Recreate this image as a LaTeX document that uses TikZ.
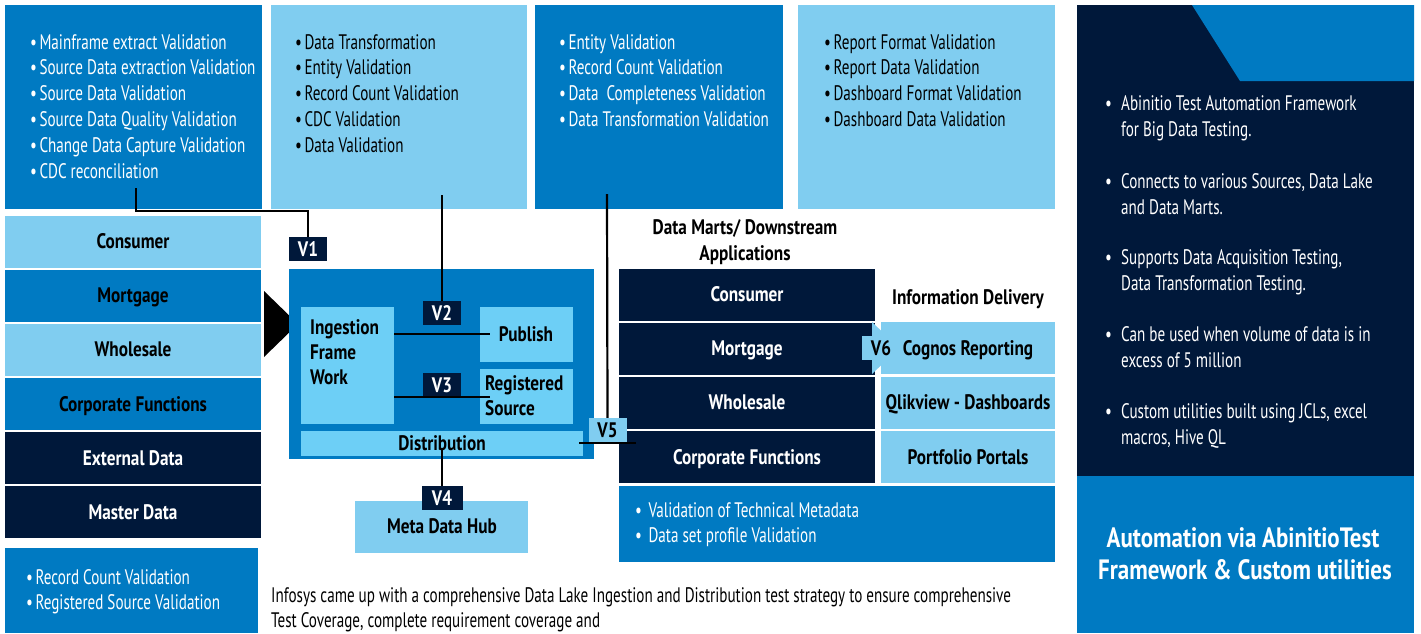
\documentclass[tikz,border=0pt]{standalone}
\usepackage{fontspec}
\setmainfont{PT Sans}[FakeStretch=0.72, BoldFeatures={FakeStretch=0.82}]
\usetikzlibrary{calc}
\definecolor{mblue}{HTML}{007AC2}
\definecolor{lblue}{HTML}{80CDF0}
\definecolor{cyanbox}{HTML}{6DCFF6}
\definecolor{navy}{HTML}{00183A}
\tikzset{
  panel/.style={anchor=north west, inner sep=0, outer sep=0, draw=none},
  btext/.style={anchor=base west, inner sep=0, font=\fontsize{21}{24}\selectfont},
  ctext/.style={anchor=base, inner sep=0, font=\fontsize{21}{24}\selectfont\bfseries},
  ltext/.style={anchor=base west, inner sep=0, font=\fontsize{21}{24}\selectfont\bfseries},
  vtag/.style={fill=navy, text=white, inner sep=0, minimum width=38pt, minimum height=24pt, font=\fontsize{21}{24}\selectfont\bfseries},
  vtaglight/.style={fill=lblue, text=black, inner sep=0, minimum width=38pt, minimum height=24pt, font=\fontsize{21}{24}\selectfont\bfseries},
  conn/.style={draw=black, line width=2.2pt},
}
% a box given by its corners
\newcommand\boxnode[6]{\node[panel, fill=#6, minimum width={(#4)-(#2)}, minimum height={(#5)-(#3)}] (#1) at (#2,#3) {};}
% a column of text lines: name, x, first baseline, pitch, style, lines
\newcommand\textlines[6]{%
  \foreach \t [count=\k] in {#6} {\node[#5] (#1\k) at (#2,{#3+(\k-1)*#4}) {\t};}}
\newcommand\bl{\textbullet\hspace{2.5pt}}
\begin{document}
\begin{tikzpicture}[x=1pt,y=-1pt]
\useasboundingbox (0,0) rectangle (1421,633);
\fill[white] (0,0) rectangle (1421,633);

% top row of validation boxes
\boxnode{srcval}{5}{5}{262}{209}{mblue}
\boxnode{trnval}{271}{5}{527}{209}{lblue}
\boxnode{entval}{535}{5}{783}{209}{mblue}
\boxnode{repval}{798}{5}{1055}{209}{lblue}
\textlines{sv}{30}{49}{25.8}{btext, text=white}{\bl Mainframe extract Validation, \bl Source Data extraction Validation, \bl Source Data Validation, \bl Source Data Quality Validation, \bl Change Data Capture Validation, \bl CDC reconciliation}
\textlines{tv}{295}{49}{25.8}{btext, text=black}{\bl Data Transformation, \bl Entity Validation, \bl Record Count Validation, \bl CDC Validation, \bl Data Validation}
\textlines{ev}{559}{49}{25.8}{btext, text=white}{\bl Entity Validation, \bl Record Count Validation, \bl Data\ \ Completeness Validation, \bl Data Transformation Validation}
\textlines{rv}{824}{49}{25.8}{btext, text=black}{\bl Report Format Validation, \bl Report Data Validation, \bl Dashboard Format Validation, \bl Dashboard Data Validation}

% source systems column
\boxnode{sconsumer}{5}{216}{261}{268}{lblue}
\boxnode{smortgage}{5}{270}{261}{322}{mblue}
\boxnode{swholesale}{5}{324}{261}{376}{lblue}
\boxnode{scorporate}{5}{378}{261}{430}{mblue}
\boxnode{sexternal}{5}{432}{261}{484}{navy}
\boxnode{smaster}{5}{486}{261}{538}{navy}
\node[ctext] (lconsumer) at (133,248) {Consumer};
\node[ctext] (lmortgage) at (133,302) {Mortgage};
\node[ctext] (lwholesale) at (133,356) {Wholesale};
\node[ctext] (lcorporate) at (133,411) {Corporate Functions};
\node[ctext, text=white] (lexternal) at (133,465) {External Data};
\node[ctext, text=white] (lmaster) at (133,519) {Master Data};
\boxnode{recval}{5}{548}{258}{633}{mblue}
\textlines{rc}{26}{584}{25.8}{btext, text=white}{\bl Record Count Validation, \bl Registered Source Validation}

% arrow into the data lake
\fill[black] (264,291) -- (298,324) -- (264,357) -- cycle;

% data lake
\boxnode{lake}{289}{269}{594}{459}{mblue}
\boxnode{ingest}{301}{307}{394}{424}{cyanbox}
\boxnode{publish}{480}{307}{573}{362}{cyanbox}
\boxnode{regsrc}{480}{369}{573}{424}{cyanbox}
\boxnode{dist}{301}{431}{583}{456}{cyanbox}
\textlines{ing}{310}{334}{25.3}{ltext}{Ingestion, Frame, Work}
\node[ctext] (lpublish) at (526,341) {Publish};
\textlines{reg}{485}{390}{25.8}{ltext}{Registered, Source}
\node[ctext] (ldist) at (442,450) {Distribution};

% metadata hub
\boxnode{meta}{355}{501}{528}{553}{lblue}
\node[ctext] (lmeta) at (442,533) {Meta Data Hub};

% data marts
\node[ctext] (dmtitle1) at (745,234) {Data Marts/ Downstream};
\node[ctext] (dmtitle2) at (745,260) {Applications};
\boxnode{dconsumer}{619}{269}{875}{321}{navy}
\boxnode{dmortgage}{619}{323}{875}{375}{navy}
\boxnode{dwholesale}{619}{377}{875}{429}{navy}
\boxnode{dcorporate}{619}{431}{875}{483}{navy}
\node[ctext, text=white] (ldconsumer) at (747,301) {Consumer};
\node[ctext, text=white] (ldmortgage) at (747,355) {Mortgage};
\node[ctext, text=white] (ldwholesale) at (747,409) {Wholesale};
\node[ctext, text=white] (ldcorporate) at (747,464) {Corporate Functions};
\boxnode{metaval}{619}{486}{1055}{562}{mblue}
\textlines{mv}{635}{517}{25.8}{btext, text=white}{\bl\ Validation of Technical Metadata, \bl\ Data set profile Validation}

% information delivery
\node[ctext] (idtitle) at (968,304) {Information Delivery};
\fill[lblue] (872,322) -- (899,348) -- (872,374) -- cycle;
\boxnode{cognos}{881}{322}{1055}{374}{lblue}
\boxnode{qlik}{881}{377}{1055}{429}{lblue}
\boxnode{portal}{881}{431}{1055}{483}{lblue}
\node[ctext] (lcognos) at (968,355) {Cognos Reporting};
\node[ctext] (lqlik) at (968,409) {Qlikview - Dashboards};
\node[ctext] (lportal) at (968,464) {Portfolio Portals};

% validation points
\node[vtag] (V1) at (308,249) {V1};
\node[vtag] (V2) at (442,313) {V2};
\node[vtag] (V3) at (442,385) {V3};
\node[vtag, minimum width=41pt] (V4) at (442,498) {V4};
\node[vtaglight] (V5) at (607.5,430) {V5};
\node[vtaglight, minimum width=22pt] (V6) at (873,348) {};
\node[inner sep=0, font=\fontsize{21}{24}\selectfont\bfseries] (V6t) at (881,348) {V6};

\coordinate (v1s) at (136,188);
\draw[conn] (v1s) -- (136,211) -| (V1.north);
\coordinate (v2s) at (442,195);
\draw[conn] (v2s) -- (V2.north);
\coordinate (v2e) at (490,334);
\draw[conn] (ingest.east |- v2e) -- (v2e);
\coordinate (v3e) at (490,397);
\draw[conn] (ingest.east |- v3e) -- (v3e);
\coordinate (v4s) at (442,450);
\draw[conn] (v4s) -- (V4.north);
\coordinate (v5s) at (607,194);
\draw[conn] (v5s) -- (V5.north);
\coordinate (v5a) at (579,443);
\coordinate (v5b) at (636,443);
\draw[conn] (v5a) -- (v5b);

% summary text
\textlines{note}{271}{602}{25.5}{btext}{Infosys came up with a comprehensive Data Lake Ingestion and Distribution test strategy to ensure comprehensive, Test Coverage{,} complete requirement coverage and}

% automation panel
\boxnode{auto}{1077}{5}{1414}{476}{navy}
\fill[mblue] (1192,5) -- (1414,5) -- (1414,81) -- (1240,81) -- cycle;
\boxnode{autotitle}{1077}{476}{1414}{633}{mblue}
\foreach \t/\y [count=\k] in {Abinitio Test Automation Framework/110, for Big Data Testing./136, Connects to various Sources{,} Data Lake/188, and Data Marts./214, Supports Data Acquisition Testing{,}/264, Data Transformation Testing./290, Can be used when volume of data is in/341, excess of 5 million/367, Custom utilities built using JCLs{,} excel/418, macros{,} Hive QL/444}
  {\node[btext, text=white] (ab\k) at (1121,\y) {\t};}
\foreach \y [count=\k] in {110,188,264,341,418}
  {\node[btext, text=white] (abb\k) at (1105,\y) {\textbullet};}
\node[anchor=base, inner sep=0, text=white, font=\fontsize{28}{32}\selectfont\bfseries] (at1) at (1243,547) {Automation via AbinitioTest};
\node[anchor=base, inner sep=0, text=white, font=\fontsize{28}{32}\selectfont\bfseries] (at2) at (1245,579) {Framework \& Custom utilities};
\end{tikzpicture}
\end{document}
